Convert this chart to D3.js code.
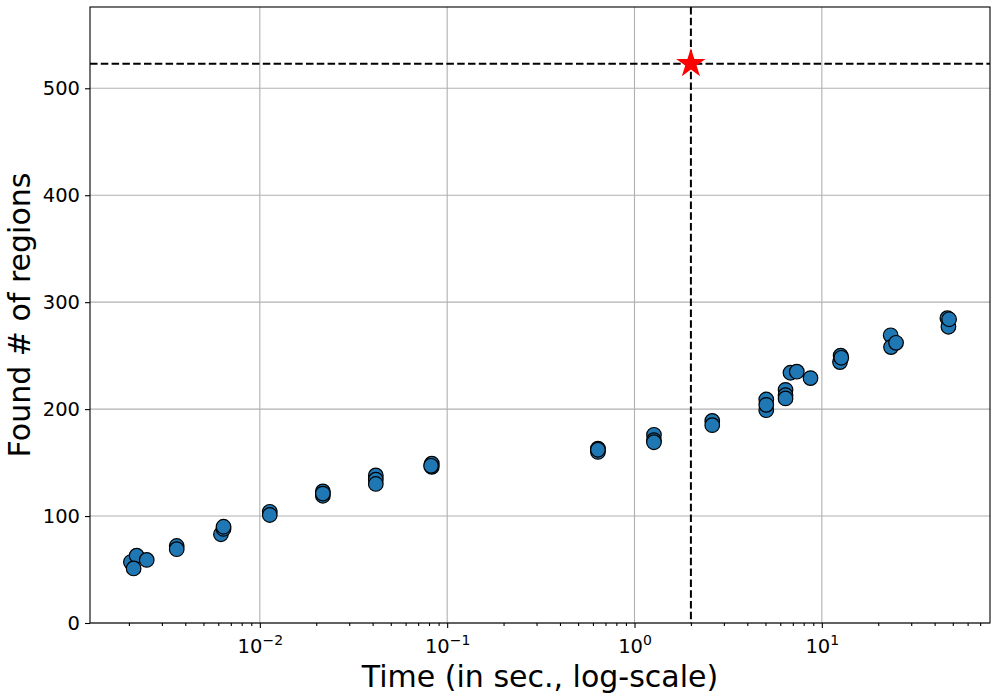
<!DOCTYPE html>
<html>
<head>
<meta charset="utf-8">
<script src="https://cdn.jsdelivr.net/npm/d3@7"></script>
<style>
  body { margin: 0; background: #fff; }
  text { font-family: "DejaVu Sans", sans-serif; }
</style>
</head>
<body>
<div id="chart"></div>
<script>
// measured runs: time (s) and number of regions found
const times   = [0.00205, 0.00220, 0.00249, 0.00212,
                 0.0036, 0.0036,
                 0.0062, 0.0064, 0.0064,
                 0.0113, 0.0113,
                 0.0217, 0.0217, 0.0217,
                 0.0416, 0.0416, 0.0416,
                 0.0828, 0.0828, 0.082,
                 0.638, 0.638, 0.638,
                 1.27, 1.27, 1.27,
                 2.6, 2.6,
                 5.05, 5.05, 5.05,
                 6.4, 6.4, 6.4,
                 6.8, 7.35, 8.7,
                 12.6, 12.5, 12.7,
                 23.3, 23.4, 24.9,
                 46.8, 47.4, 47.8];
const regions = [57, 63, 59, 51,
                 72, 69,
                 83, 88, 90,
                 104, 101,
                 123, 119, 121,
                 138, 134, 130,
                 149, 146, 147,
                 163, 160, 162,
                 176, 171, 169,
                 189, 185,
                 209, 199, 204,
                 218, 213, 210,
                 234, 235, 229,
                 250, 244, 248,
                 269, 258, 262,
                 285, 277, 284];
const best = {time: 2.0, regions: 523};
const yTicks = [0, 100, 200, 300, 400, 500];
const xTicks = [1e-2, 1e-1, 1e0, 1e1];
const xExp = ["−2", "−1", "0", "1"];

const width = 1000, height = 700;
const margin = {top: 7, right: 10, bottom: 77, left: 90};

const svg = d3.select('#chart').append('svg')
    .attr('width', width)
    .attr('height', height);

const x = d3.scaleLog()
    .domain([0.00124, 79])
    .range([margin.left, width - margin.right]);
const y = d3.scaleLinear()
    .domain([0, 576])
    .range([height - margin.bottom, margin.top]);

const plotBottom = height - margin.bottom;

// grid
svg.append('g').selectAll('line')
    .data(xTicks).enter().append('line')
    .attr('x1', d => x(d)).attr('x2', d => x(d))
    .attr('y1', margin.top).attr('y2', plotBottom)
    .attr('stroke', '#b0b0b0').attr('stroke-width', 1.1);
svg.append('g').selectAll('line')
    .data(yTicks).enter().append('line')
    .attr('x1', margin.left).attr('x2', width - margin.right)
    .attr('y1', d => y(d)).attr('y2', d => y(d))
    .attr('stroke', '#b0b0b0').attr('stroke-width', 1.1);

// axes
const minor = [];
for (let e = -3; e <= 1; e++) {
  for (let m = 2; m <= 9; m++) {
    const v = m * Math.pow(10, e);
    if (v > x.domain()[0] && v < x.domain()[1]) minor.push(v);
  }
}
const xMinor = svg.append('g')
    .attr('transform', `translate(0,${plotBottom})`)
    .call(d3.axisBottom(x).tickValues(minor).tickSize(3).tickFormat(''));
xMinor.select('.domain').remove();

const xAxis = svg.append('g')
    .attr('transform', `translate(0,${plotBottom})`)
    .call(d3.axisBottom(x).tickValues(xTicks).tickSize(5).tickFormat(''));
xAxis.select('.domain').remove();
xAxis.selectAll('.tick').each(function(d, i) {
  const t = d3.select(this).append('text')
      .attr('y', 30)
      .attr('fill', 'black')
      .attr('text-anchor', 'middle')
      .attr('font-size', 19.5);
  t.append('tspan').text('10');
  t.append('tspan').attr('dy', -8).attr('font-size', 14).text(xExp[i]);
});

const yAxis = svg.append('g')
    .attr('transform', `translate(${margin.left},0)`)
    .call(d3.axisLeft(y).tickValues(yTicks).tickSize(5).tickPadding(5));
yAxis.select('.domain').remove();
yAxis.selectAll('text')
    .attr('font-size', 19.5)
    .attr('font-family', '"DejaVu Sans", sans-serif')
    .attr('fill', 'black');
svg.selectAll('.tick line').attr('stroke', 'black').attr('stroke-width', 1.1);

// frame
svg.append('rect')
    .attr('x', margin.left).attr('y', margin.top)
    .attr('width', width - margin.left - margin.right)
    .attr('height', plotBottom - margin.top)
    .attr('fill', 'none').attr('stroke', 'black').attr('stroke-width', 1.1);

// reference lines
svg.append('line')
    .attr('x1', x(best.time)).attr('x2', x(best.time))
    .attr('y1', margin.top).attr('y2', plotBottom)
    .attr('stroke', 'black').attr('stroke-width', 2)
    .attr('stroke-dasharray', '7.5,3.3');
svg.append('line')
    .attr('x1', margin.left).attr('x2', width - margin.right)
    .attr('y1', y(best.regions)).attr('y2', y(best.regions))
    .attr('stroke', 'black').attr('stroke-width', 2)
    .attr('stroke-dasharray', '7.5,3.3');

// points
svg.append('g').selectAll('circle')
    .data(times).enter().append('circle')
    .attr('cx', d => x(d))
    .attr('cy', (d, i) => y(regions[i]))
    .attr('r', 7.3)
    .attr('fill', '#1f77b4')
    .attr('stroke', 'black')
    .attr('stroke-width', 1.2);

// star
svg.append('path')
    .attr('d', d3.symbol().type(d3.symbolStar).size(270)())
    .attr('transform', `translate(${x(best.time)},${y(best.regions)})`)
    .attr('fill', 'red');

// labels
svg.append('text')
    .attr('x', (margin.left + width - margin.right) / 2)
    .attr('y', 687)
    .attr('text-anchor', 'middle')
    .attr('font-size', 30)
    .text('Time (in sec., log-scale)');
svg.append('text')
    .attr('transform', `translate(30,${(margin.top + plotBottom) / 2}) rotate(-90)`)
    .attr('text-anchor', 'middle')
    .attr('font-size', 30)
    .text('Found # of regions');
</script>
</body>
</html>
